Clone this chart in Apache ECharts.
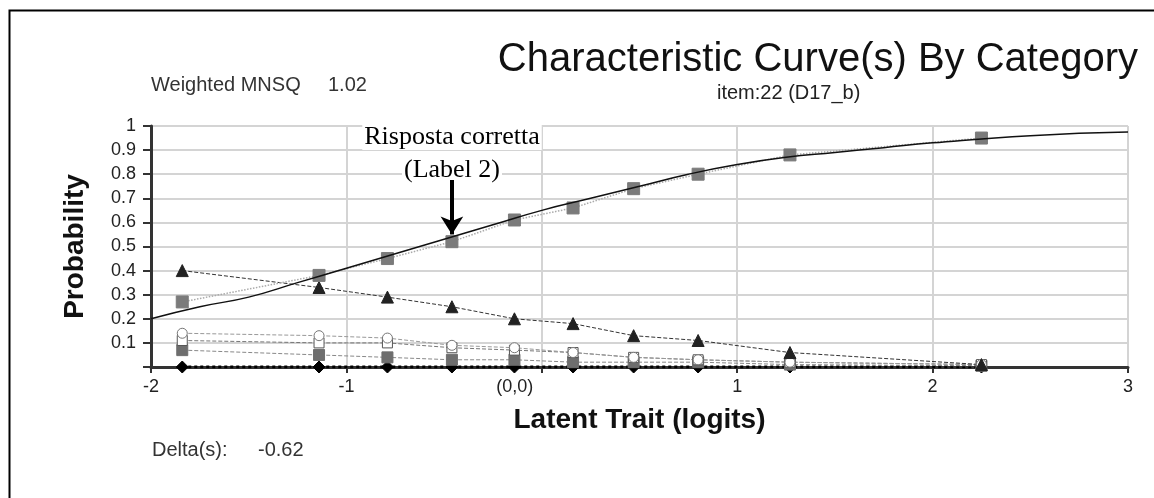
<!DOCTYPE html>
<html>
<head>
<meta charset="utf-8">
<script src="https://cdn.jsdelivr.net/npm/echarts@6/dist/echarts.min.js"></script>
<style>
html,body{margin:0;padding:0;background:#fff;}
#container{width:1154px;height:498px;}
</style>
</head>
<body>
<div id="container"></div>
<script>
// curve caratteristiche per categoria - item 22
var dom = document.getElementById("container");
var myChart = echarts.init(dom);

// ascisse dei gruppi osservati (logit)
var obsX = [-1.84, -1.14, -0.79, -0.46, -0.14, 0.16, 0.47, 0.80, 1.27, 2.25];
// categoria 2 (risposta corretta), quadrati grigi
var cat2 = [0.27, 0.38, 0.45, 0.52, 0.61, 0.66, 0.74, 0.80, 0.88, 0.95];
// categoria 1, triangoli
var cat1 = [0.40, 0.33, 0.29, 0.25, 0.20, 0.18, 0.13, 0.11, 0.06, 0.01];
// altre categorie
var catC = [0.14, 0.13, 0.12, 0.09, 0.08, 0.06, 0.04, 0.03, 0.02, 0.01];
var catS = [0.11, 0.10, 0.10, 0.08, 0.07, 0.06, 0.04, 0.03, 0.02, 0.01];
var catG = [0.07, 0.05, 0.04, 0.03, 0.03, 0.02, 0.02, 0.02, 0.01, 0.005];
var cat0 = [0, 0, 0, 0, 0, 0, 0, 0, 0, 0];
// curva modello
var modelX = [-2, -1.75, -1.5, -1.25, -1, -0.75, -0.5, -0.25, 0, 0.25, 0.5, 0.75, 1, 1.25, 1.5, 1.75, 2, 2.5, 3];
var modelY = [0.20, 0.25, 0.29, 0.35, 0.41, 0.47, 0.53, 0.59, 0.65, 0.70, 0.75, 0.80, 0.84, 0.87, 0.89, 0.91, 0.93, 0.96, 0.975];

var sans = 'Liberation Sans, Arial, sans-serif';
var serif = 'Liberation Serif, Times New Roman, serif';

function pairs(xs, ys) {
    return xs.map(function (x, i) { return [x, ys[i]]; });
}

function obsSeries(name, ys, symbol, size, color, border, lineColor, lineType, lineWidth) {
    return {
        name: name,
        type: 'line',
        data: pairs(obsX, ys),
        symbol: symbol,
        symbolSize: size,
        itemStyle: {color: color, borderColor: border, borderWidth: 1, opacity: 1},
        lineStyle: {color: lineColor, type: lineType, width: lineWidth},
        z: 3
    };
}

function txt(x, y, s, size, font, color, align, bg) {
    var st = {text: s, fontSize: size, fontFamily: font, fill: color, align: align || 'left', verticalAlign: 'middle'};
    if (bg) {
        st.backgroundColor = bg;
        st.padding = [0, 2];
    }
    return {type: 'text', x: x, y: y, z: 1, silent: true, style: st};
}

var option = {
    backgroundColor: '#ffffff',
    animation: false,
    textStyle: {fontFamily: sans},
    grid: {left: 151, right: 26, top: 126, bottom: 131},
    xAxis: {
        type: 'value',
        min: -2,
        max: 3,
        interval: 1,
        name: 'Latent Trait (logits)',
        nameLocation: 'middle',
        nameGap: 39,
        nameTextStyle: {fontSize: 28, fontWeight: 'bold', color: '#111'},
        axisLine: {lineStyle: {color: '#333', width: 3}},
        axisTick: {show: true, length: 6, lineStyle: {color: '#333', width: 2}},
        axisLabel: {
            fontSize: 18,
            color: '#222',
            margin: 11,
            formatter: function (v) { return v === 0 ? '{z|(0,0)}' : String(v); },
            rich: {z: {fontSize: 18, color: '#222', padding: [0, 54, 0, 0]}}
        },
        splitLine: {show: true, lineStyle: {color: '#d4d4d4', width: 2}}
    },
    yAxis: {
        type: 'value',
        min: 0,
        max: 1,
        interval: 0.1,
        name: 'Probability',
        nameLocation: 'middle',
        nameGap: 62,
        nameTextStyle: {fontSize: 28, fontWeight: 'bold', color: '#111'},
        axisLine: {show: true, onZero: false, lineStyle: {color: '#333', width: 3}},
        axisTick: {show: true, length: 8, lineStyle: {color: '#333', width: 2}},
        axisLabel: {
            fontSize: 18,
            color: '#222',
            margin: 15,
            formatter: function (v) { return v === 0 ? '' : String(+v.toFixed(1)); }
        },
        splitLine: {show: true, lineStyle: {color: '#d4d4d4', width: 2}}
    },
    series: [
        {
            name: 'modello',
            type: 'line',
            data: pairs(modelX, modelY),
            smooth: true,
            symbol: 'none',
            lineStyle: {color: '#111', width: 1.5},
            z: 4,
            markLine: {
                silent: true,
                symbol: ['none', 'arrow'],
                symbolSize: [17, 18],
                label: {show: false},
                lineStyle: {color: '#000', width: 4, type: 'solid'},
                data: [[{coord: [-0.46, 0.776]}, {coord: [-0.46, 0.55]}]]
            }
        },
        obsSeries('cat0', cat0, 'diamond', 12, '#000', '#000', '#000', 'dotted', 3),
        obsSeries('catG', catG, 'rect', 11, '#6e6e6e', '#6e6e6e', '#888', 'dashed', 1),
        obsSeries('catS', catS, 'rect', 10, '#fff', '#555', '#777', 'dashed', 1),
        obsSeries('catC', catC, 'circle', 10, '#fff', '#777', '#999', 'dashed', 1),
        obsSeries('cat1', cat1, 'triangle', 12, '#222', '#222', '#333', 'dashed', 1),
        obsSeries('cat2', cat2, 'rect', 12, '#7b7b7b', '#7b7b7b', '#aaa', 'dotted', 1.5)
    ],
    graphic: [
        {type: 'rect', left: 7, top: 8, silent: true, shape: {width: 1170, height: 520}, style: {fill: 'none', stroke: '#000', lineWidth: 2}},
        txt(151, 85, 'Weighted MNSQ', 20, sans, '#333'),
        txt(328, 85, '1.02', 20, sans, '#333'),
        txt(1138, 60, 'Characteristic Curve(s) By Category', 40, sans, '#111', 'right'),
        txt(717, 93, 'item:22 (D17_b)', 20, sans, '#222'),
        txt(152, 450, 'Delta(s):', 20, sans, '#333'),
        txt(258, 450, '-0.62', 20, sans, '#333'),
        txt(452, 137, 'Risposta corretta', 26, serif, '#000', 'center', '#fff'),
        txt(452, 170, '(Label 2)', 26, serif, '#000', 'center', '#fff')
    ]
};

if (option && typeof option === "object") {
    myChart.setOption(option, true);
}
</script>
</body>
</html>
